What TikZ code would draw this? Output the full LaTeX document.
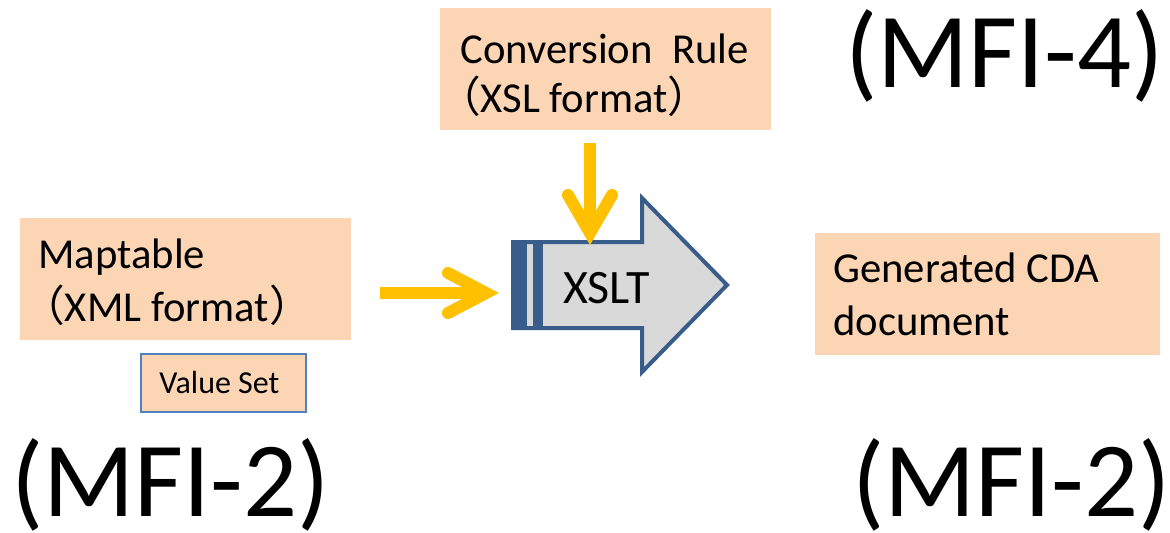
\documentclass[tikz,border=0pt]{standalone}
\usepackage{fontspec}
\setmainfont{Carlito}
\newfontfamily\cjk{Noto Sans CJK JP}
\definecolor{peach}{HTML}{FCD5B5}
\definecolor{xfill}{HTML}{D9D9D9}
\definecolor{xblue}{HTML}{385D8A}
\definecolor{vsblue}{HTML}{4F81BD}
\definecolor{gold}{HTML}{FFC000}
\newcommand{\lpar}{{\cjk （}}
\newcommand{\rpar}{{\cjk ）}}
\begin{document}
\begin{tikzpicture}[x=0.75pt,y=-0.75pt,
  box/.style={fill=peach,draw=none,anchor=north west,inner sep=0pt},
  txt/.style={anchor=base west,inner sep=0pt,font=\fontsize{32}{38}\selectfont},
  big/.style={anchor=base west,inner sep=0pt,font=\fontsize{80}{92}\selectfont},
  goldarrow/.style={draw=gold,line width=9pt,line cap=round,line join=miter},
  goldshaft/.style={draw=gold,line width=9pt,line cap=butt}]
\useasboundingbox (0,0) rectangle (1170,532);

% boxes
\node[box,minimum width=248.25pt,minimum height=91.5pt] (conv) at (440,8) {};
\node[box,minimum width=248.25pt,minimum height=91.5pt] (mapt) at (20,218) {};
\node[box,minimum width=258.75pt,minimum height=91.5pt] (cda) at (815,233) {};
\node[box,draw=vsblue,line width=1.5pt,minimum width=123.75pt,minimum height=43.5pt] (vset) at (140,353) {};

% box texts
\node[txt] (convt1) at (460,63) {Conversion\ \ Rule};
\node[txt] (convt2) at (438,112) {\lpar XSL format\rpar};
\node[txt] (mapt1) at (38,268) {Maptable};
\node[txt] (mapt2) at (22,321) {\lpar XML format\rpar};
\node[txt] (cda1) at (833,282) {Generated CDA};
\node[txt] (cda2) at (833,335) {document};
\node[anchor=base west,inner sep=0pt,font=\fontsize{24}{29}\selectfont] (vsett) at (159,393) {Value Set};

% XSLT block arrow
\path[fill=xfill,draw=xblue,line width=3pt,line join=miter]
  (513,242) -- (642,242) -- (642,198) -- (727,285) -- (642,372) -- (642,328) -- (513,328) -- cycle;
\fill[xblue] (511,240) rectangle (527,330);
\fill[xblue] (533,240) rectangle (543,330);
\node[anchor=base west,inner sep=0pt,font=\fontsize{36}{43}\selectfont] (xslt) at (563,303) {XSLT};

% yellow arrows
\coordinate (hstart) at (380,293);
\coordinate (htip) at (486,293);
\coordinate (hup) at (448,273);
\coordinate (hdn) at (448,313);
\draw[goldshaft] (hstart) -- (htip);
\draw[goldarrow] (hup) -- (htip) -- (hdn);

\coordinate (vstart) at (590,143);
\coordinate (vtip) at (590,233);
\coordinate (vl) at (568,195);
\coordinate (vr) at (612,195);
\draw[goldshaft] (vstart) -- (vtip);
\draw[goldarrow] (vl) -- (vtip) -- (vr);

% MFI labels
\node[big] (mfi4) at (845,87) {(MFI-4)};
\node[big] (mfi2a) at (11,516) {(MFI-2)};
\node[big] (mfi2b) at (852,516) {(MFI-2)};
\end{tikzpicture}
\end{document}
